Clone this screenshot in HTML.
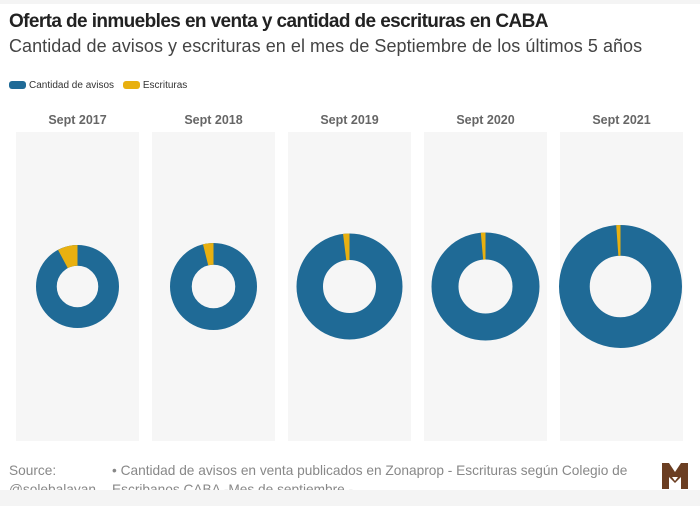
<!DOCTYPE html>
<html><head><meta charset="utf-8"><style>
body{margin:0;width:700px;height:506px;background:#fff;font-family:"Liberation Sans",sans-serif;position:relative;overflow:hidden}
.t{position:absolute;left:9px;top:11px;font-size:19px;font-weight:bold;color:#222;letter-spacing:-0.6px}
.s{position:absolute;left:9px;top:36px;font-size:18px;color:#444;letter-spacing:0.05px}
.lg{position:absolute;top:80px;font-size:10px;color:#333}
.sw{display:inline-block;width:17px;height:8px;border-radius:3px;vertical-align:middle;margin-right:3px}
.yr{position:absolute;top:113px;width:123px;text-align:center;font-size:12.5px;font-weight:bold;color:#666}
.ft{position:absolute;font-size:13.7px;color:#888;line-height:19px}
</style></head><body>
<div style="position:absolute;left:0;top:0;width:700px;height:4px;background:#f4f4f4"></div>
<div class="t">Oferta de inmuebles en venta y cantidad de escrituras en CABA</div>
<div class="s">Cantidad de avisos y escrituras en el mes de Septiembre de los últimos 5 años</div>
<div class="lg" style="left:9px"><span class="sw" style="background:#1f6a96"></span>Cantidad de avisos <span class="sw" style="background:#e8b010;margin-left:6px"></span>Escrituras</div>
<div class="yr" style="left:16px">Sept 2017</div>
<div class="yr" style="left:152px">Sept 2018</div>
<div class="yr" style="left:288px">Sept 2019</div>
<div class="yr" style="left:424px">Sept 2020</div>
<div class="yr" style="left:560px">Sept 2021</div>
<svg width="700" height="506" style="position:absolute;left:0;top:0">
<g fill="#f6f6f6">
<rect x="16" y="132" width="123" height="309"/><rect x="152" y="132" width="123" height="309"/><rect x="288" y="132" width="123" height="309"/><rect x="424" y="132" width="123" height="309"/><rect x="560" y="132" width="123" height="309"/>
</g>
<g id="d"></g>
</svg>
<script>
var data=[[77.5,41.5,28],[213.5,43.5,14],[349.5,53,7],[485.5,54,5],[620.5,61.5,4]];
var g=document.getElementById('d'),h='';
data.forEach(function(d){var cx=d[0],cy=286.5,r=d[1],ri=r*0.5,w=r-ri,rm=(r+ri)/2;
h+='<circle cx="'+cx+'" cy="'+cy+'" r="'+rm+'" fill="none" stroke="#1f6a96" stroke-width="'+w+'"/>';
var a=-d[2]*Math.PI/180;
var x1=cx+r*Math.sin(a),y1=cy-r*Math.cos(a),x2=cx+ri*Math.sin(a),y2=cy-ri*Math.cos(a);
h+='<path d="M'+cx+' '+(cy-r)+' A'+r+' '+r+' 0 0 0 '+x1+' '+y1+' L'+x2+' '+y2+' A'+ri+' '+ri+' 0 0 1 '+cx+' '+(cy-ri)+'Z" fill="#e8b010"/>';});
g.innerHTML=h;
</script>
<div class="ft" style="left:9px;top:461px">Source:<br>@solebalayan</div>
<div class="ft" style="left:112px;top:461px;width:540px">• Cantidad de avisos en venta publicados en Zonaprop - Escrituras según Colegio de Escribanos CABA -Mes de septiembre -</div>
<div style="position:absolute;left:0;top:490px;width:700px;height:16px;background:#f4f4f4"></div>
<svg width="30" height="30" style="position:absolute;left:660px;top:461px"><path d="M2 2 L9 2 L15 11 L21 2 L28 2 L28 28 L21 28 L21 16 L15 22 L9 16 L9 28 L2 28Z" fill="#6b3e22"/><path d="M12 16 L15 20 L18 16Z" fill="#fff"/></svg>
</body></html>
